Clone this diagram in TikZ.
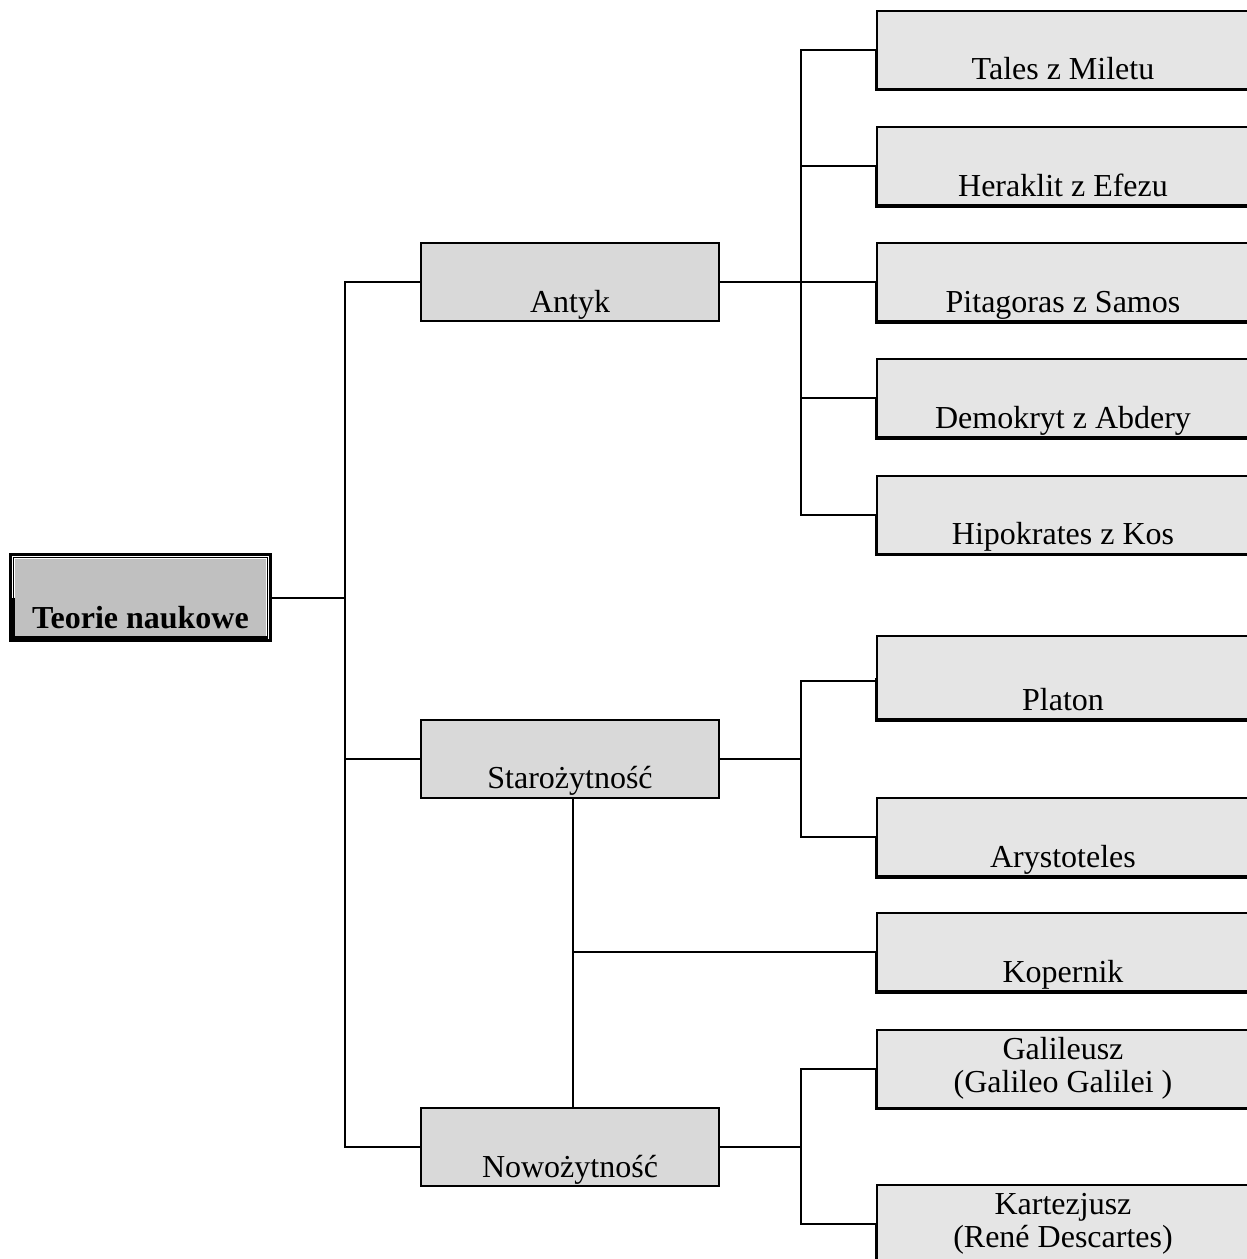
\documentclass[tikz,border=0pt]{standalone}
\usepackage{fontspec}
\setmainfont{Liberation Serif}
\usetikzlibrary{positioning}
\definecolor{szaryA}{HTML}{C0C0C0}
\definecolor{szaryB}{HTML}{D9D9D9}
\definecolor{szaryC}{HTML}{E5E5E5}
\tikzset{
  korzen/.style={draw, line width=1.5pt, fill=white,
    path picture={\fill[szaryA] ([shift={(2.2pt,2.2pt)}]path picture bounding box.south west)
      rectangle ([shift={(-2.2pt,-2.2pt)}]path picture bounding box.north east);},
    inner sep=0pt, minimum width=130pt, text height=36.75pt, text depth=6.25pt,
    font=\fontsize{16}{16.5}\selectfont\bfseries},
  epoka/.style={draw, line width=1pt, fill=szaryB, inner sep=0pt, minimum width=149pt,
    text height=34.5pt, text depth=4.5pt},
  postac/.style={draw, line width=1pt, fill=szaryC, inner sep=0pt, minimum width=186pt,
    minimum height=39pt, align=center},
  niski/.style={text height=34.5pt, text depth=4.5pt},
  lacznik/.style={line width=1pt},
  cien/.style={line width=1.5pt}
}
\begin{document}
\begin{tikzpicture}[x=0.5pt, y=-0.5pt, font=\fontsize{16}{16.5}\selectfont]
  \useasboundingbox (0,0) rectangle (1247,1259);
  \clip (0,0) rectangle (1247,1259);

  % korzen i epoki
  \node[korzen] (teorie) at (140.5,597.5) {Teorie naukowe};
  \draw[line width=0.75pt] ([shift={(2.2pt,2.2pt)}]teorie.south west) rectangle ([shift={(-2.2pt,-2.2pt)}]teorie.north east);
  \draw[cien] ([shift={(2.2pt,0pt)}]teorie.west) |- ([shift={(-2.2pt,2.2pt)}]teorie.south east);
  \node[epoka] (antyk) at (570,282) {Antyk};
  \node[epoka] (staro) at (570,758.5) {Starożytność};
  \node[epoka] (nowo) at (570,1147) {Nowożytność};

  % postaci
  \node[postac, niski] (tales) at (1063,49.5) {Tales z Miletu};
  \node[postac, niski] (heraklit) at (1063,166) {Heraklit z Efezu};
  \node[postac, niski] (pitagoras) at (1063,282) {Pitagoras z Samos};
  \node[postac, niski] (demokryt) at (1063,398) {Demokryt z Abdery};
  \node[postac, niski] (hipokrates) at (1063,514.5) {Hipokrates z Kos};
  \node[postac, text height=37pt, text depth=4.5pt] (platon) at (1063,677.5) {Platon};
  \node[postac, niski] (arystoteles) at (1063,837) {Arystoteles};
  \node[postac, niski] (kopernik) at (1063,952) {Kopernik};
  \node[postac] (galileusz) at (1063,1068.5) {Galileusz\\(Galileo Galilei )};
  \node[postac] (kartezjusz) at (1063,1223.5) {Kartezjusz\\(René Descartes)};

  \foreach \n in {tales,heraklit,pitagoras,demokryt,hipokrates,platon,arystoteles,kopernik,galileusz,kartezjusz}
    \draw[cien] (\n.west) |- (\n.south east);

  % punkty rozgalezien
  \coordinate (w1) at (345,597.5);
  \coordinate (w2) at (801,282);
  \coordinate (w3) at (801,758.5);
  \coordinate (w4) at (801,1147);
  \coordinate (w5) at (573,952);

  \draw[lacznik] (teorie.east) -- (w1);
  \draw[lacznik] (antyk.west) -| (w1) |- (nowo.west);
  \draw[lacznik] (staro.west) -- (staro.west -| w1);

  \draw[lacznik] (antyk.east) -- (pitagoras.west);
  \draw[lacznik] (tales.west) -| (w2) |- (hipokrates.west);
  \foreach \n in {heraklit,demokryt}
    \draw[lacznik] (\n.west) -- (\n.west -| w2);

  \draw[lacznik] (staro.east) -- (w3);
  \draw[lacznik] ([yshift=-1.75pt]platon.west) -| (w3) |- (arystoteles.west);

  \draw[lacznik] (nowo.east) -- (w4);
  \draw[lacznik] (galileusz.west) -| (w4) |- (kartezjusz.west);

  \draw[lacznik] (staro.south -| w5) -- (nowo.north -| w5);
  \draw[lacznik] (kopernik.west) -- (w5);
\end{tikzpicture}
\end{document}
